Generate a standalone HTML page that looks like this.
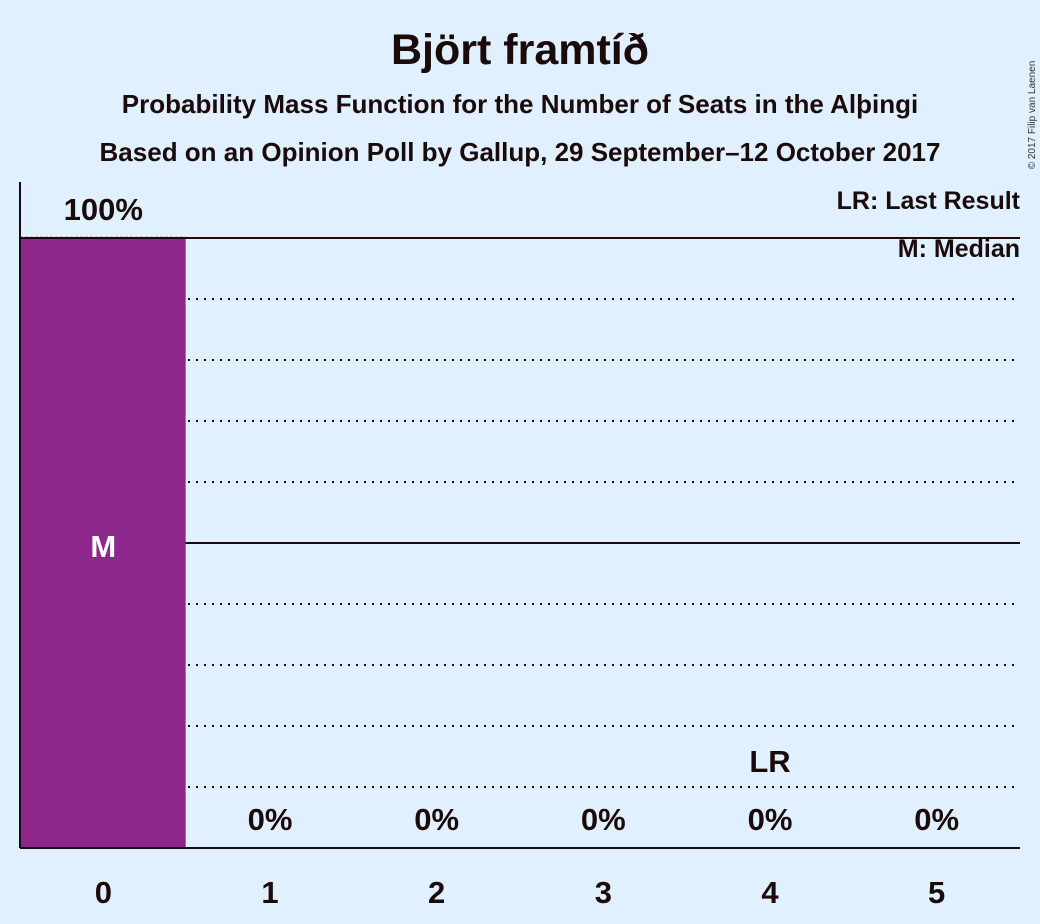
<!DOCTYPE html>
<html><head><meta charset="utf-8"><style>
body{margin:0;background:#E0F0FF;font-family:"Liberation Sans",sans-serif;}
svg{display:block}
</style></head><body>
<svg id="chart" width="1040" height="924">
<rect width="1040" height="924" fill="#E0F0FF"/>
<text x="520" y="64" text-anchor="middle" font-size="43" font-weight="bold" fill="#1a0a0a">Björt framtíð</text>
<text x="520" y="113" text-anchor="middle" font-size="26" font-weight="bold" fill="#1a0a0a">Probability Mass Function for the Number of Seats in the Alþingi</text>
<text x="520" y="161" text-anchor="middle" font-size="26" font-weight="bold" fill="#1a0a0a">Based on an Opinion Poll by Gallup, 29 September–12 October 2017</text>
<text x="1035" y="115" font-size="10" fill="#333" transform="rotate(-90 1035 115)" text-anchor="middle">© 2017 Filip van Laenen</text>
<text x="1020" y="209" text-anchor="end" font-size="25" font-weight="bold" fill="#1a0a0a">LR: Last Result</text>
<text x="1020" y="257" text-anchor="end" font-size="25" font-weight="bold" fill="#1a0a0a">M: Median</text>
<line x1="20" y1="237" x2="186" y2="237" stroke="#999" stroke-width="1" stroke-dasharray="3,2"/>
<g id="grid"></g>
<g id="bars"></g>
<line x1="20" y1="182" x2="20" y2="848" stroke="#1a0a0a" stroke-width="2"/>
<line x1="20" y1="848" x2="1020" y2="848" stroke="#1a0a0a" stroke-width="2"/>
</svg>
<script>
const seats=[0,1,2,3,4,5];
const probs=[100,0,0,0,0,0];
const labels=["100%","0%","0%","0%","0%","0%"];
const medianSeat=0;
const lastResultSeat=4;
const gridTicks=[10,20,30,40,50,60,70,80,90,100];
const ns="http://www.w3.org/2000/svg";
const x0=20,bw=1000/6;
function xs(i){return x0+i*bw;}
function ys(v){return 848-610*v/100;}
function mk(t,a,p){const e=document.createElementNS(ns,t);for(const k in a)e.setAttribute(k,a[k]);p.appendChild(e);return e;}
const grid=document.getElementById('grid'),bars=document.getElementById('bars');
gridTicks.forEach(v=>{
 const solid=v===50||v===100;
 const l=mk('line',{x1:x0,y1:ys(v),x2:1020,y2:ys(v),stroke:'#1a0a0a','stroke-width':2,'stroke-dasharray':solid?'none':'2,6'},grid);
 
 
});
seats.forEach((s,i)=>{
 const v=probs[i];
 if(v>0){
  const r=mk('rect',{x:xs(i)+1,y:ys(v)+1,width:bw-2,height:848-ys(v)-1,fill:'#8E278B'},bars);
  
  
 }
 const lt=mk('text',{x:xs(i)+bw/2,y:ys(v)-18,'text-anchor':'middle','font-size':31,'font-weight':'bold',fill:'#1a0a0a'},bars);
 lt.textContent=labels[i];
 
 
 const tk=mk('text',{x:xs(i)+bw/2,y:903,'text-anchor':'middle','font-size':31,'font-weight':'bold',fill:'#1a0a0a'},bars);
 tk.textContent=String(s);
 
 
 if(s===medianSeat){
  const m=mk('text',{x:xs(i)+bw/2,y:ys(v/2)+14,'text-anchor':'middle','font-size':31,'font-weight':'bold',fill:'#fff'},bars);
  m.textContent='M';
  
  
 }
 if(s===lastResultSeat){
  const m=mk('text',{x:xs(i)+bw/2,y:772,'text-anchor':'middle','font-size':31,'font-weight':'bold',fill:'#1a0a0a'},bars);
  m.textContent='LR';
  
  
 }
});
</script>
</body></html>
